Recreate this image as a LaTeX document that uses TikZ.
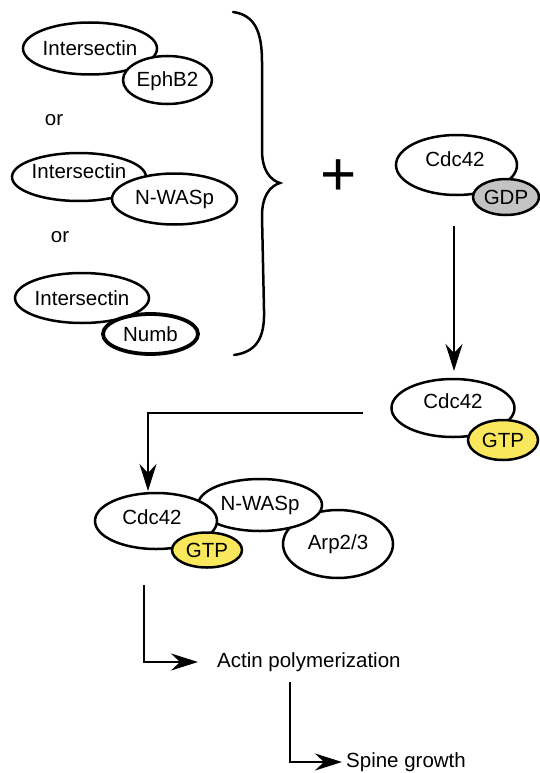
\documentclass[tikz,border=0pt]{standalone}
\usepackage{fontspec}
\setmainfont{Liberation Sans}
\usetikzlibrary{shapes.geometric,arrows.meta}
\definecolor{gdpgray}{RGB}{195,195,195}
\definecolor{gtpyellow}{RGB}{250,232,92}
\begin{document}
\begin{tikzpicture}[x=1pt,y=-1pt,
  ell/.style={ellipse, draw, line width=2.5pt, fill=white, inner sep=0pt, font=\fontsize{20.5}{24}\selectfont},
  lbl/.style={inner sep=0pt, font=\fontsize{20.5}{24}\selectfont},
  arr/.style={line width=2.5pt, -{Stealth[length=27pt,width=17pt,inset=9pt]}},
]
\useasboundingbox (0,0) rectangle (539,773);

% group 1
\node[ell, minimum width=134pt, minimum height=52pt] (i1) at (90,48.5) {Intersectin};
\node[ell, minimum width=89pt, minimum height=48pt] (e1) at (167.5,80) {};
\node[lbl] (e1t) at (167.5,81) {EphB2};
\node[lbl] (or1) at (54,120) {or};
% group 2
\node[ell, minimum width=134pt, minimum height=48pt] (i2) at (79,177) {};
\node[lbl] (i2t) at (79,171) {Intersectin};
\node[ell, minimum width=125pt, minimum height=51pt] (n2) at (174.5,199) {N-WASp};
\node[lbl] (or2) at (60,237) {or};
% group 3
\node[ell, minimum width=134pt, minimum height=50pt] (i3) at (82,298) {Intersectin};
\node[ell, line width=3.8pt, minimum width=95pt, minimum height=40pt] (nb3) at (150.5,334) {Numb};

% brace
\draw[line width=2.5pt, line cap=round]
  (233,12) .. controls (255,15) and (262,32) .. (262,62)
  -- (262,150) .. controls (262,170) and (270,180) .. (280,183)
  .. controls (270,186) and (262,196) .. (262,216)
  -- (264,310) .. controls (265,340) and (255,352) .. (234,355);

% plus
\node[inner sep=0pt, font=\fontsize{62}{64}\selectfont] (plus) at (339,178) {+};

% Cdc42-GDP
\node[ell, minimum width=121pt, minimum height=60pt] (c1) at (456.5,165) {};
\node[lbl] (c1t) at (455,159) {Cdc42};
\node[ell, fill=gdpgray, minimum width=66pt, minimum height=36pt] (gdp) at (506,197) {GDP};

% Cdc42-GTP
\node[ell, minimum width=123pt, minimum height=58pt] (c2) at (453,408) {};
\node[lbl] (c2t) at (453,401) {Cdc42};
\node[ell, fill=gtpyellow, minimum width=70pt, minimum height=40pt] (gtp2) at (503,440) {GTP};

% complex
\node[ell, minimum width=110pt, minimum height=68pt] (arp) at (338,544) {Arp2/3};
\node[ell, minimum width=124pt, minimum height=52pt] (nw) at (260,505) {N-WASp};
\node[ell, minimum width=122pt, minimum height=56pt] (c3) at (156,521) {};
\node[lbl] (c3t) at (152,517) {Cdc42};
\node[ell, fill=gtpyellow, minimum width=70pt, minimum height=35pt] (gtp3) at (207,550) {GTP};

% outputs
\node[lbl, anchor=west] (actin) at (217,662) {Actin polymerization};
\node[lbl, anchor=west] (spine) at (346,762) {Spine growth};

% connectors
\coordinate (a1s) at (454,226);
\coordinate (a1e) at (454,371);
\draw[arr] (a1s) -- (a1e);

\coordinate (a2s) at (363,413);
\coordinate (a2e) at (148,491);
\draw[arr] (a2s) -| (a2e);

\coordinate (a3s) at (144,585);
\draw[arr] (a3s) |- ([xshift=-19pt]actin.west);

\coordinate (a4s) at (290,682);
\draw[arr] (a4s) |- ([xshift=-4pt]spine.west);
\end{tikzpicture}
\end{document}
